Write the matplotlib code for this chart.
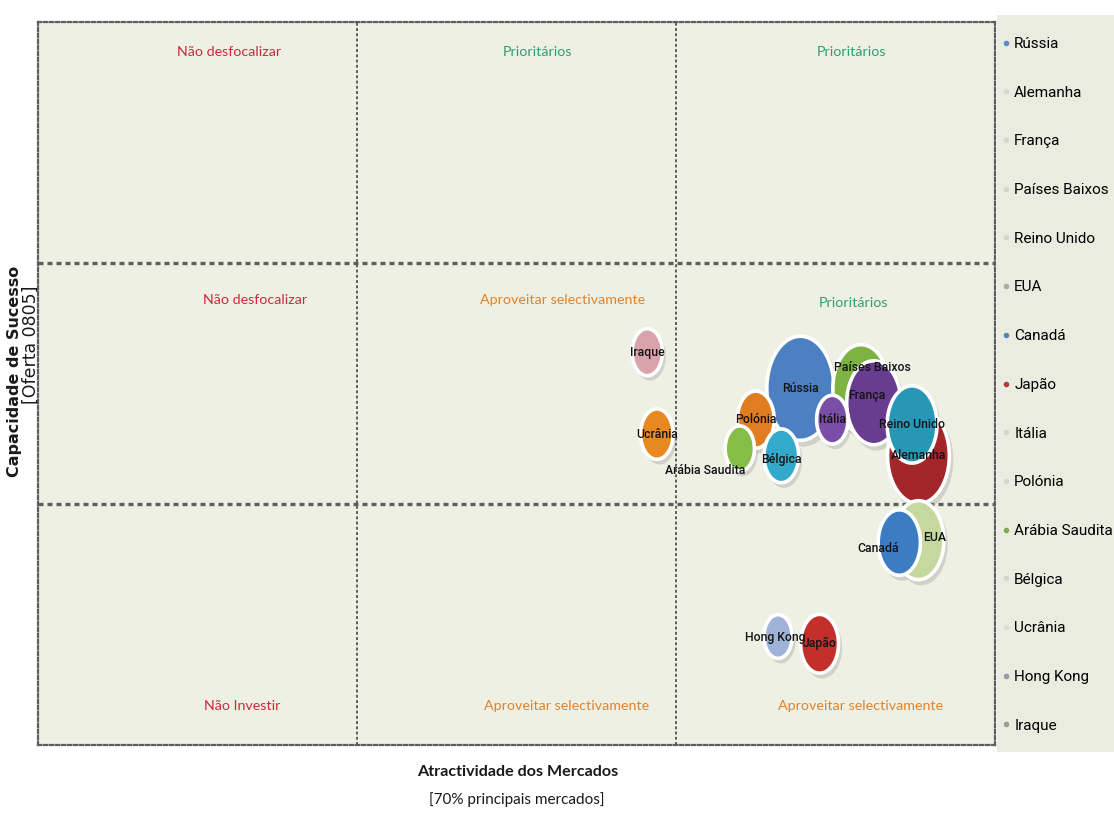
import matplotlib
matplotlib.use("Agg")
import matplotlib.pyplot as plt
import numpy as np
from matplotlib.path import Path
from matplotlib.patches import Rectangle
from matplotlib.lines import Line2D
from matplotlib import transforms

# Mercados e posicionamento na matriz
paises = ["Rússia", "Alemanha", "França", "Países Baixos", "Reino Unido", "EUA",
          "Canadá", "Japão", "Itália", "Polónia", "Arábia Saudita", "Bélgica",
          "Ucrânia", "Hong Kong", "Iraque"]
atractividade = [2.39, 2.76, 2.62, 2.58, 2.74, 2.76, 2.70, 2.45, 2.49, 2.25,
                 2.20, 2.33, 1.94, 2.32, 1.91]
capacidade = [1.48, 1.20, 1.42, 1.48, 1.33, 0.85, 0.84, 0.42, 1.35, 1.35,
              1.23, 1.20, 1.29, 0.45, 1.63]
dimensao = [62, 57, 50, 52, 46, 47, 39, 35, 29, 34, 27, 32, 30, 26, 28]
cores = ["#4d80c2", "#a3262b", "#683c8e", "#7cb342", "#2697b4", "#c5d89e",
         "#3b7cc3", "#c3302b", "#7a4ea6", "#e07c22", "#86bd46", "#33a9cc",
         "#e8891f", "#9fb3d8", "#d9a3ab"]
cores_legenda = ["#5a8ac6", "#d8d8d8", "#d6d6d6", "#d4d4d4", "#d4d4d4", "#aaaaaa",
                 "#4f86c0", "#b8383c", "#d4d4d4", "#d6d6d6", "#7daa55", "#d4d4d4",
                 "#dddddd", "#9a9aa6", "#a09a9a"]

# Rótulos dos quadrantes: texto, tipo
quadrantes = ["Não desfocalizar", "Prioritários", "Prioritários",
              "Não desfocalizar", "Aproveitar selectivamente", "Prioritários",
              "Não Investir", "Aproveitar selectivamente", "Aproveitar selectivamente"]
tipos = ["neg", "pri", "pri", "neg", "apr", "pri", "neg", "apr", "apr"]
cor_quadrante = {"neg": "#cc2a3c", "pri": "#2f9e72", "apr": "#e0832c"}
pos_quadrante = [(0.60, 2.876), (1.567, 2.876), (2.549, 2.876),
                 (0.68, 1.846), (1.643, 1.846), (2.555, 1.834),
                 (0.639, 0.162), (1.658, 0.162), (2.577, 0.162)]

# deslocamento dos rótulos das bolhas, em pontos
desloc = {"Arábia Saudita": (-25, -16), "Países Baixos": (8, 15), "França": (-5, 5),
          "Canadá": (-15, -4), "EUA": (12, 2), "Bélgica": (0, -3), "Hong Kong": (-2, -1)}

plt.rcParams["font.family"] = ["Lato", "DejaVu Sans"]

fig = plt.figure(figsize=(11.14, 8.16), dpi=100)
fig.patch.set_facecolor("white")

# fundo da legenda
fig.patches.append(Rectangle((997 / 1114, 1 - 752 / 816), 117 / 1114, 737 / 816,
                             transform=fig.transFigure, facecolor="#eaecdf",
                             edgecolor="none", zorder=0))

ax = fig.add_axes([38 / 1114, 71 / 816, 957 / 1114, 723 / 816])
ax.set_facecolor("#eef0e3")
ax.set_xlim(0, 3)
ax.set_ylim(0, 3)
ax.set_xticks([])
ax.set_yticks([])

dash = (0, (1.5, 1.2))
for s in ax.spines.values():
    s.set_linestyle(dash)
    s.set_color("#5e5e5e")
    s.set_linewidth(1.6)
for v in (1, 2):
    ax.axvline(v, color="#5e5e5e", lw=1.4, ls=dash, zorder=1)
    ax.axhline(v, color="#5e5e5e", lw=2.4, ls=dash, zorder=1)

for (qx, qy), txt, kind in zip(pos_quadrante, quadrantes, tipos):
    ax.text(qx, qy, txt, ha="center", va="center", fontsize=10.3,
            color=cor_quadrante[kind])

# marcador elíptico (bolhas esticadas na vertical)
esticar = 1.55
t = np.linspace(0, 2 * np.pi, 80)
elipse = Path(np.column_stack([np.cos(t) / esticar, np.sin(t)]), closed=True)

x = np.array(atractividade)
y = np.array(capacidade)
w = np.array(dimensao, dtype=float)
tam = (w * 0.78 * esticar) ** 2
ordem = np.argsort(-w)

sombra = transforms.offset_copy(ax.transData, fig=fig, x=2, y=-3, units="points")
ax.scatter(x[ordem], y[ordem], s=tam[ordem] * 1.08, marker=elipse, color="#9a9a9a",
           alpha=0.35, linewidths=0, transform=sombra, zorder=2)
ax.scatter(x[ordem], y[ordem], s=tam[ordem], marker=elipse,
           c=[cores[i] for i in ordem], edgecolors="white", linewidths=2.6, zorder=3)

for i, nome in enumerate(paises):
    dx, dy = desloc.get(nome, (0, 0))
    ax.annotate(nome, (x[i], y[i]), xytext=(dx, dy), textcoords="offset points",
                ha="center", va="center", fontsize=8.8, fontweight="medium",
                color="#141414", zorder=4, family=["Roboto", "DejaVu Sans"])

# legenda
handles = [Line2D([], [], ls="none", marker="o", markersize=4, markerfacecolor=c,
                  markeredgecolor="none") for c in cores_legenda]
fig.legend(handles, paises, loc="upper left", bbox_to_anchor=(1002 / 1114, 1 - 37 / 816),
           frameon=False, labelspacing=2.27, handlelength=0.5,
           handletextpad=0.3, borderaxespad=0, borderpad=0,
           prop={"family": ["Roboto", "DejaVu Sans"], "size": 11})

# títulos dos eixos
fig.text(518 / 1114, 1 - 772 / 816, "Atractividade dos Mercados", ha="center",
         va="center", fontsize=11.6, fontweight="bold", color="#1a1a1a")
fig.text(517 / 1114, 1 - 800 / 816, "[70% principais mercados]", ha="center",
         va="center", fontsize=11, color="#1a1a1a")
fig.text(15 / 1114, 1 - 371 / 816, "Capacidade de Sucesso", rotation=90, ha="center",
         va="center", fontsize=11.5, fontweight="bold", color="#1a1a1a",
         family="DejaVu Sans")
fig.text(31 / 1114, 1 - 345 / 816, "[Oferta 0805]", rotation=90, ha="center",
         va="center", fontsize=12.5, color="#1a1a1a", family="DejaVu Sans")

fig.savefig("out.png", dpi=100)
